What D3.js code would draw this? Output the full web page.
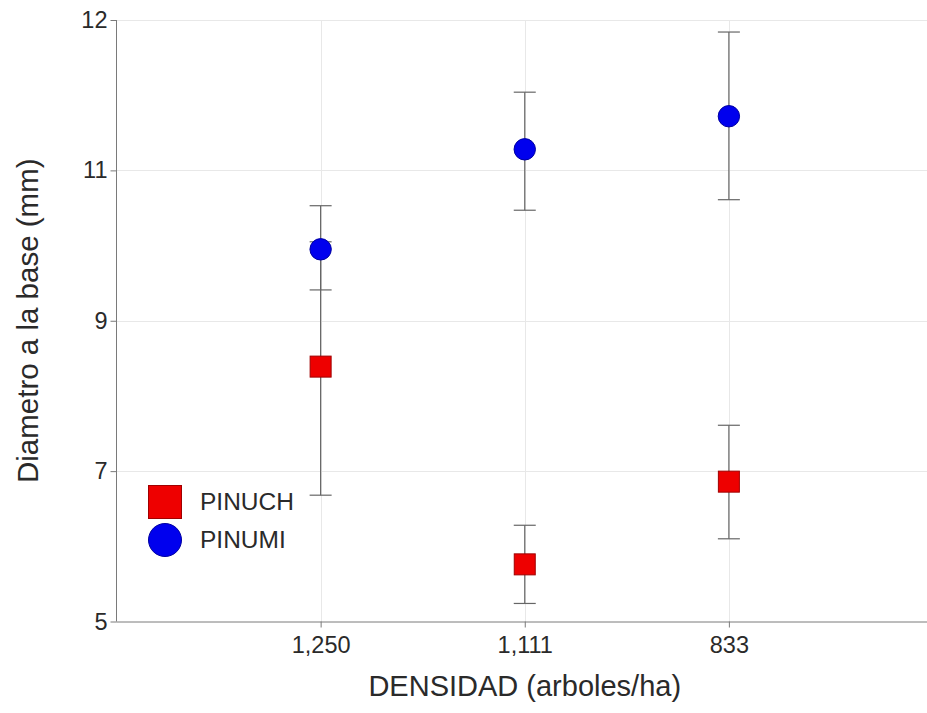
<!DOCTYPE html>
<html>
<head>
<meta charset="utf-8">
<script src="https://cdn.jsdelivr.net/npm/d3@7"></script>
<style>
  html, body { margin: 0; padding: 0; background: #fff; }
  svg { display: block; font-family: "Liberation Sans", Arial, sans-serif; }
</style>
</head>
<body>
<svg id="chart" width="927" height="713"></svg>
<script>
// ---- data ----
const categories = ["1,250", "1,111", "833"];
const seriesNames = ["PINUCH", "PINUMI"];
const pinuchMean  = [8.39, 5.76, 6.86];
const pinuchLow   = [6.68, 5.24, 6.10];
const pinuchHigh  = [10.05, 6.28, 7.61];
const pinumiMean  = [9.95, 11.14, 11.36];
const pinumiLow   = [9.41, 10.47, 10.61];
const pinumiHigh  = [10.53, 11.52, 11.92];
const yTickValues = [5, 7, 9, 11, 12];
const xTitle = "DENSIDAD (arboles/ha)";
const yTitle = "Diametro a la base (mm)";

// ---- layout ----
const W = 927, H = 713;
const plotLeft = 116.5, plotTop = 20, plotBottom = 621.5, plotRight = 933;

const svg = d3.select("#chart");

const x = d3.scalePoint().domain(categories).range([plotLeft, plotRight]).padding(1);
const nT = yTickValues.length;
const y = d3.scaleLinear()
  .domain(yTickValues)
  .range(yTickValues.map((d, i) => plotBottom - i * (plotBottom - plotTop) / (nT - 1)));

// gridlines
const grid = svg.append("g").attr("stroke", "#e8e8e8").attr("stroke-width", 1);
grid.selectAll("line.h").data(yTickValues.slice(1)).join("line").attr("class", "h")
  .attr("x1", plotLeft).attr("x2", W)
  .attr("y1", d => Math.round(y(d)) + 0.5).attr("y2", d => Math.round(y(d)) + 0.5);
grid.selectAll("line.v").data(categories).join("line").attr("class", "v")
  .attr("x1", d => Math.round(x(d)) + 0.5).attr("x2", d => Math.round(x(d)) + 0.5)
  .attr("y1", plotTop).attr("y2", plotBottom);

// axes
const axisColor = "#7a7a7a";
const textColor = "#2a2a2a";
const yAxis = svg.append("g").attr("transform", `translate(${plotLeft},0)`)
  .call(d3.axisLeft(y).tickValues(yTickValues).tickFormat(d3.format("d"))
        .tickSize(6).tickSizeOuter(0).tickPadding(3));
const xAxis = svg.append("g").attr("transform", `translate(0,${plotBottom})`)
  .call(d3.axisBottom(x).tickSize(6).tickSizeOuter(0).tickPadding(9));
xAxis.select(".domain").attr("d", `M${plotLeft},0.5H${W}`);
yAxis.select(".domain").attr("d", `M0,${plotTop}V${plotBottom}`);
[xAxis, yAxis].forEach(a => {
  a.selectAll(".domain, line").attr("stroke", axisColor);
  a.selectAll("text").attr("font-size", 23.5).attr("fill", textColor)
   .attr("font-family", "Liberation Sans, Arial, sans-serif");
});

// axis titles
svg.append("text").attr("x", (plotLeft + plotRight) / 2).attr("y", 696)
  .attr("text-anchor", "middle").attr("font-size", 29).attr("fill", textColor)
  .text(xTitle);
svg.append("text")
  .attr("transform", `translate(38,${(plotTop + plotBottom) / 2}) rotate(-90)`)
  .attr("text-anchor", "middle").attr("font-size", 29.5).attr("fill", textColor)
  .text(yTitle);

// series
const series = [
  { name: seriesNames[0], mean: pinuchMean, low: pinuchLow, high: pinuchHigh, shape: "square", fill: "#ee0000", stroke: "#a00000" },
  { name: seriesNames[1], mean: pinumiMean, low: pinumiLow, high: pinumiHigh, shape: "circle", fill: "#0000ee", stroke: "#0000a0" }
];

const capHalf = 11;
const errG = svg.append("g").attr("stroke", "#666").attr("stroke-width", 1.2);
series.forEach(s => {
  categories.forEach((c, i) => {
    const cx = x(c);
    errG.append("line").attr("x1", cx).attr("x2", cx)
      .attr("y1", y(s.low[i])).attr("y2", y(s.high[i]));
    [s.low[i], s.high[i]].forEach(v => {
      errG.append("line").attr("x1", cx - capHalf).attr("x2", cx + capHalf)
        .attr("y1", y(v)).attr("y2", y(v));
    });
  });
});

const markG = svg.append("g");
series.forEach(s => {
  categories.forEach((c, i) => {
    const cx = x(c), cy = y(s.mean[i]);
    if (s.shape === "square") {
      markG.append("rect").attr("x", cx - 10.5).attr("y", cy - 10.5)
        .attr("width", 21).attr("height", 21)
        .attr("fill", s.fill).attr("stroke", s.stroke).attr("stroke-width", 1);
    } else {
      markG.append("circle").attr("cx", cx).attr("cy", cy).attr("r", 10.7)
        .attr("fill", s.fill).attr("stroke", s.stroke).attr("stroke-width", 1);
    }
  });
});

// legend
const leg = svg.append("g").attr("transform", "translate(148,485)");
series.forEach((s, i) => {
  const gy = i * 38;
  if (s.shape === "square") {
    leg.append("rect").attr("x", 0.5).attr("y", gy + 0.5).attr("width", 33).attr("height", 33)
      .attr("fill", s.fill).attr("stroke", s.stroke).attr("stroke-width", 1);
  } else {
    leg.append("circle").attr("cx", 17).attr("cy", gy + 17).attr("r", 16.5)
      .attr("fill", s.fill).attr("stroke", s.stroke).attr("stroke-width", 1);
  }
  leg.append("text").attr("x", 52).attr("y", gy + 25)
    .attr("font-size", 24.5).attr("fill", textColor).text(s.name);
});
</script>
</body>
</html>
